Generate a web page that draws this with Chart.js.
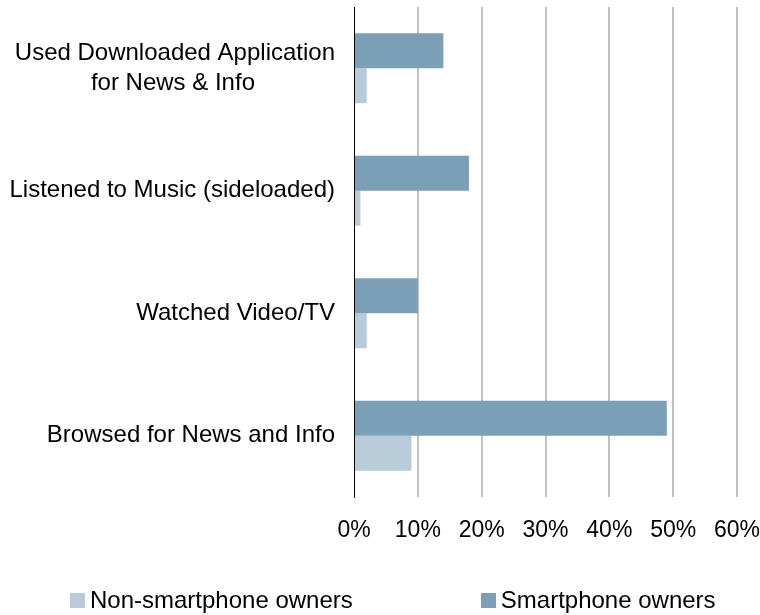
<!DOCTYPE html>
<html lang="en">

<head>
    <meta charset="UTF-8">
    <title>Mobile Media Activities by Phone Type</title>
    <script src="https://cdn.jsdelivr.net/npm/chart.js"></script>
    <style>
        body {
            margin: 0;
            background: #fff;
        }

        #wrap {
            position: relative;
            width: 760px;
            height: 615px;
        }

        #legend {
            position: absolute;
            left: 70px;
            top: 586px;
            display: flex;
            gap: 128px;
            font: 24px "Liberation Sans", Arial, sans-serif;
            color: #000;
        }

        #legend span.item {
            display: flex;
            align-items: center;
        }

        #legend span.box {
            display: inline-block;
            width: 15px;
            height: 15px;
            margin-right: 5px;
        }
    </style>
</head>

<body>
    <div id="wrap">
        <canvas id="activities" width="760" height="615"></canvas>
        <div id="legend"></div>
    </div>

    <script>
        // categories, top to bottom
        const activities = [
            ['Used Downloaded Application', 'for News & Info'],
            'Listened to Music (sideloaded)',
            'Watched Video/TV',
            'Browsed for News and Info'
        ];
        // percent of each group
        const smartphoneOwners = [14, 18, 10, 49];
        const nonSmartphoneOwners = [2, 1, 2, 9];
        const xTicks = [0, 10, 20, 30, 40, 50, 60];

        const labelFont = '24px "Liberation Sans", Arial, sans-serif';

        // pad shorter lines of a multi-line label so they sit centered under the longest one
        function centerLines(lines) {
            if (!Array.isArray(lines)) return lines;
            const ctx = document.createElement('canvas').getContext('2d');
            ctx.font = labelFont;
            const widest = Math.max(...lines.map(l => ctx.measureText(l).width));
            const space = ctx.measureText(' ').width;
            return lines.map(l => {
                const n = Math.round((widest - ctx.measureText(l).width) / 2 / space);
                return l + ' '.repeat(n);
            });
        }

        const chart = new Chart(document.getElementById('activities'), {
            type: 'bar',
            data: {
                labels: activities.map(centerLines),
                datasets: [{
                    label: 'Smartphone owners',
                    data: smartphoneOwners,
                    backgroundColor: '#7a9fb7'
                }, {
                    label: 'Non-smartphone owners',
                    data: nonSmartphoneOwners,
                    backgroundColor: '#b8cbd9'
                }]
            },
            options: {
                indexAxis: 'y',
                responsive: false,
                animation: false,
                layout: {
                    padding: { top: 7, right: 23, bottom: 68, left: 0 }
                },
                datasets: {
                    bar: {
                        barPercentage: 1,
                        categoryPercentage: 0.571
                    }
                },
                scales: {
                    x: {
                        min: 0,
                        max: 60,
                        afterBuildTicks: scale => {
                            scale.ticks = xTicks.map(v => ({ value: v }));
                        },
                        afterFit: scale => {
                            scale.height = 50;
                            // edge labels may hang over, layout padding covers them
                            scale.paddingLeft = 0;
                            scale.paddingRight = 0;
                        },
                        grid: {
                            drawTicks: false,
                            lineWidth: 2,
                            color: c => c.tick && c.tick.value === 0 ? 'rgba(0,0,0,0)' : '#c2c2c2'
                        },
                        border: { display: false },
                        ticks: {
                            padding: 20,
                            color: '#000',
                            font: { family: '"Liberation Sans", Arial, sans-serif', size: 23 },
                            callback: v => v + '%'
                        }
                    },
                    y: {
                        afterFit: scale => {
                            scale.width = 354;
                            scale.paddingTop = 0;
                            scale.paddingBottom = 0;
                        },
                        grid: { display: false, drawTicks: false },
                        border: { display: true, color: '#000', width: 1 },
                        ticks: {
                            padding: 19,
                            color: '#000',
                            font: { family: '"Liberation Sans", Arial, sans-serif', size: 24, lineHeight: 1.22 }
                        }
                    }
                },
                plugins: {
                    legend: { display: false },
                    tooltip: { enabled: false }
                }
            }
        });

        // legend below the plot, lighter series first
        const legend = document.getElementById('legend');
        chart.data.datasets.slice().reverse().forEach(ds => {
            const item = document.createElement('span');
            item.className = 'item';
            const box = document.createElement('span');
            box.className = 'box';
            box.style.background = ds.backgroundColor;
            item.appendChild(box);
            item.appendChild(document.createTextNode(ds.label));
            legend.appendChild(item);
        });
    </script>
</body>

</html>
